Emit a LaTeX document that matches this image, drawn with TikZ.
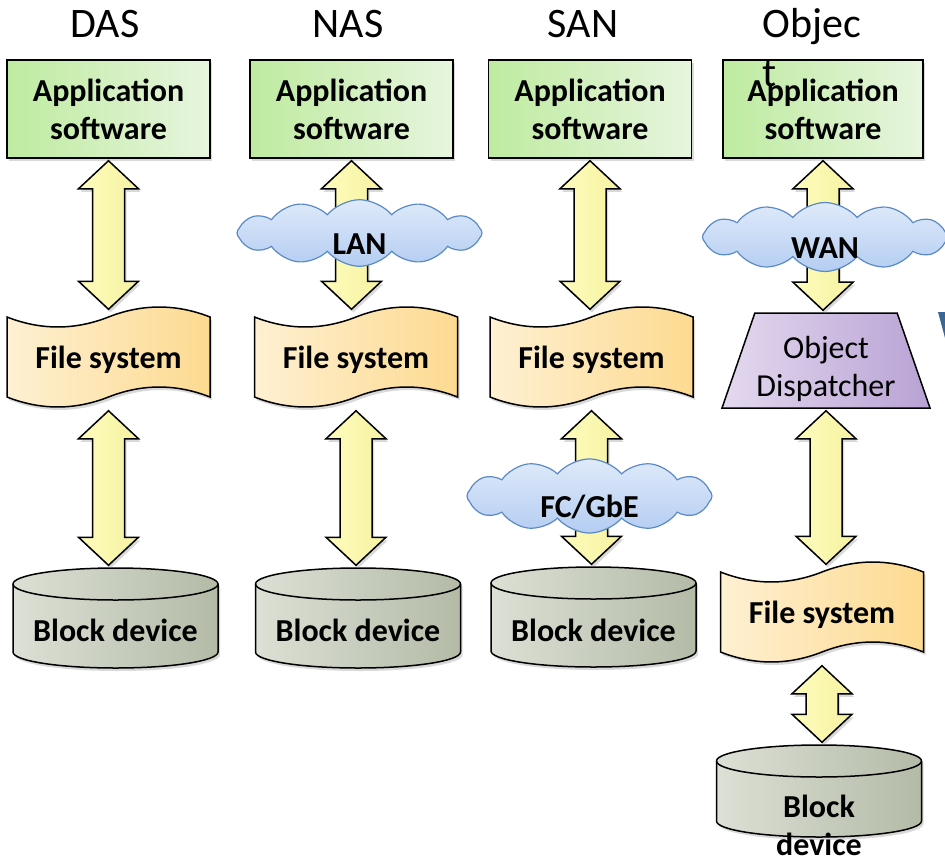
\documentclass[tikz,border=0pt]{standalone}
\usepackage{fontspec}
\setmainfont{Carlito}
\usetikzlibrary{shapes.geometric,shapes.symbols,shadows,calc}

\definecolor{appgreen}{HTML}{BEEBA0}
\definecolor{apppale}{HTML}{E7F5DE}
\definecolor{fslight}{HTML}{FEF0D2}
\definecolor{fsdark}{HTML}{FDDA90}
\definecolor{arrowfill}{HTML}{FDFCBC}
\definecolor{arrowdark}{HTML}{F6F2A2}
\definecolor{cloudtop}{HTML}{DFEAFA}
\definecolor{cloudbot}{HTML}{B4CDF2}
\definecolor{cloudline}{HTML}{5A8AC6}
\definecolor{disklight}{HTML}{DCE0D5}
\definecolor{diskdark}{HTML}{B3BBA7}
\definecolor{displight}{HTML}{E4D9EF}
\definecolor{dispdark}{HTML}{B8A2D4}
\definecolor{edgeblue}{HTML}{3C6794}

\newcommand\bigfont{\fontsize{42}{49}\selectfont}
\newcommand\boxfont{\fontsize{32}{38}\selectfont}

\tikzset{
  softshadow/.style={drop shadow={opacity=0.3, shadow xshift=2pt, shadow yshift=-3pt}},
  headline/.style={font=\bigfont, inner sep=0pt, anchor=base},
  appbox/.style={draw, left color=appgreen, right color=apppale, minimum width=203pt,
    minimum height=98pt, align=center, font=\boxfont\bfseries, inner sep=0pt, softshadow},
  fsnode/.style={minimum width=203pt, minimum height=96pt, font=\boxfont\bfseries, inner sep=0pt},
  fswave/.style={draw, left color=fslight, right color=fsdark, softshadow},
  diskbody/.style={draw, left color=disklight, right color=diskdark, softshadow},
  diskbox/.style={minimum width=205pt, inner sep=0pt},
  disklabel/.style={font=\boxfont\bfseries, inner sep=0pt, align=center},
  net/.style={cloud, cloud puffs=12, cloud puff arc=100, cloud ignores aspect, draw=cloudline,
    line width=1.2pt, top color=cloudtop, bottom color=cloudbot, minimum width=245pt,
    minimum height=60pt, font=\boxfont\bfseries, inner sep=0pt, text height=42pt, text depth=0pt},
  dispatch/.style={trapezium, trapezium left angle=77, trapezium right angle=77,
    trapezium stretches, draw, left color=displight, right color=dispdark,
    minimum width=208pt, minimum height=95pt, inner sep=2pt},
  fatarrow/.style={draw, left color=arrowfill, right color=arrowdark, line join=miter, softshadow}
}

\newcommand\twoway[2]{%
  \draw[fatarrow] let \p1=#1, \p2=#2 in
    (\x1,\y1-2pt) -- (\x1+30pt,\y1-30pt) -- (\x1+16pt,\y1-30pt)
    -- (\x1+16pt,\y2+30pt) -- (\x1+30pt,\y2+30pt) -- (\x1,\y2+2pt)
    -- (\x1-30pt,\y2+30pt) -- (\x1-16pt,\y2+30pt)
    -- (\x1-16pt,\y1-30pt) -- (\x1-30pt,\y1-30pt) -- cycle;}

\begin{document}
\begin{tikzpicture}[x=1pt, y=-1pt, line width=1.5pt]
  \useasboundingbox (0,0) rectangle (945,860);
  %%%%%%%%%%%%%%%%%%%%%%%%%%%%%%%%
  \node[appbox] (app1) at (108.5,109) {Application\\software};
  \node[appbox] (app2) at (351.5,109) {Application\\software};
  \node[appbox] (app3) at (590,109) {Application\\software};
  \node[appbox, minimum width=200pt] (app4) at (823,109) {Application\\software};
  % column heads
  \node[headline] (tdas) at (105,37) {DAS};
  \node[headline] (tnas) at (348,37) {NAS};
  \node[headline] (tsan) at (583,37) {SAN};
  \node[headline, align=left] (tobj) at (812,86) {Objec\\t};
  %%%%%%%%%%%%%%%%%%%%%%%%%%%%%%%%
  \foreach \i/\cx/\cy in {1/108.5/357, 2/356/357, 3/591.5/357, 4/822/612} {
    \draw[fswave, shift={(\cx,\cy)}] (-101.5,-40)
      .. controls (-67.7,-26.7) and (-33.8,-26.7) .. (0,-40)
      .. controls (33.8,-53.3) and (67.7,-53.3) .. (101.5,-40) -- (101.5,40)
      .. controls (67.7,26.7) and (33.8,26.7) .. (0,40)
      .. controls (-33.8,53.3) and (-67.7,53.3) .. (-101.5,40) -- cycle;
    \node[fsnode] (fs\i) at (\cx,\cy+3) {File system};
  }
  \node[dispatch] (disp) at (826,360.5) {};
  \node[font=\boxfont, align=center, inner sep=0pt] (dispname) at (826,369) {Object\\Dispatcher};
  %%%%%%%%%%%%%%%%%%%%%%%%%%%%%%%%
  \foreach \i/\cx/\ya/\yb in {1/115.5/568/668, 2/358/568/668, 3/593.5/567/667, 4/819/745/837} {
    \draw[diskbody] (\cx-102.5,\ya+16) -- (\cx-102.5,\yb-16)
      arc[start angle=180, end angle=360, x radius=102.5pt, y radius=16pt]
      -- (\cx+102.5,\ya+16)
      arc[start angle=0, end angle=180, x radius=102.5pt, y radius=16pt] -- cycle;
    \draw (\cx-102.5,\ya+16) arc[start angle=180, end angle=360, x radius=102.5pt, y radius=16pt];
    \node[diskbox, minimum height={\yb pt-\ya pt}] (disk\i) at (\cx,{(\ya+\yb)/2}) {};
  }
  \node[disklabel] (dev1) at (115.5,630) {Block device};
  \node[disklabel] (dev2) at (358,630) {Block device};
  \node[disklabel] (dev3) at (593.5,630) {Block device};
  \node[disklabel] (dev4) at (819,825) {Block\\device};
  %%%%%%%%%%%%%%%%%%%%%%%%%%%%%%%%
  \twoway{(app1.south)}{(fs1.north)}
  \twoway{(fs1.south)}{(disk1.north)}
  \twoway{(app2.south)}{(fs2.north)}
  \twoway{(fs2.south)}{(disk2.north)}
  \twoway{(app3.south)}{(fs3.north)}
  \twoway{(fs3.south)}{(disk3.north)}
  \twoway{(app4.south)}{(disp.north)}
  \twoway{(disp.south)}{(fs4.north)}
  \twoway{(fs4.south)}{(disk4.north)}
  %%%%%%%%%%%%%%%%%%%%%%%%%%%%%%%%
  \node[net] (lan) at (359.5,233) {LAN};
  \node[net] (wan) at (825,237) {WAN};
  \node[net, minimum height=58pt] (fc) at (589.5,496) {FC/GbE};
  \fill[edgeblue] (938,312) -- (945,312) -- (945,338) -- cycle;
\end{tikzpicture}
\end{document}
